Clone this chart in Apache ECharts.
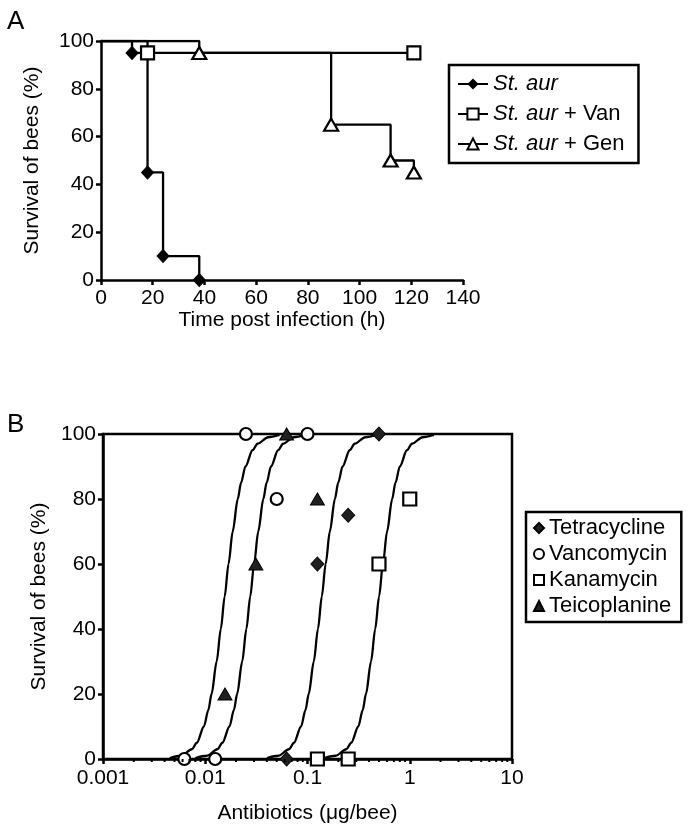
<!DOCTYPE html>
<html>
<head>
<meta charset="utf-8">
<script src="https://cdn.jsdelivr.net/npm/echarts@6/dist/echarts.min.js"></script>
<style>
html,body{margin:0;padding:0;background:#fff;}
#c{width:690px;height:831px;}
</style>
</head>
<body>
<div id="c"></div>
<script>
// ---------- Panel A: Kaplan-Meier survival ----------
const aurTime = [0, 12, 18, 24, 38];
const aurSurv = [100, 95, 45, 10, 0];
const vanTime = [0, 18, 121];
const vanSurv = [100, 95, 95];
const genTime = [0, 38, 89, 112, 121];
const genSurv = [100, 95, 65, 50, 45];
const seriesNamesA = ['St. aur', 'St. aur + Van', 'St. aur + Gen'];
const xTicksA = [0, 140, 20];   // min, max, interval
const yTicksA = [0, 100, 20];

// ---------- Panel B: dose response ----------
const tetraDose = [0.0625, 0.125, 0.25, 0.5];
const tetraSurv = [0, 60, 75, 100];
const vancoDose = [0.00625, 0.0125, 0.025, 0.05, 0.1];
const vancoSurv = [0, 0, 100, 80, 100];
const kanaDose = [0.125, 0.25, 0.5, 1];
const kanaSurv = [0, 0, 60, 80];
const teicoDose = [0.0156, 0.03125, 0.0625, 0.125];
const teicoSurv = [20, 60, 100, 80];
const seriesNamesB = ['Tetracycline', 'Vancomycin', 'Kanamycin', 'Teicoplanine'];

// fitted sigmoid curves (survival level -> dose)
const fitSurv  = [0.3, 1, 3, 5, 10, 15, 20, 30, 40, 50, 60, 70, 80, 85, 90, 95, 97, 99, 99.7];
const fit1Dose = [0.004503, 0.005829, 0.007392, 0.008277, 0.009705, 0.01071, 0.01153, 0.01293, 0.01420, 0.01549, 0.01689, 0.01855, 0.02080, 0.02240, 0.02472, 0.02898, 0.03245, 0.04118, 0.05327];
const fit2Dose = [0.008008, 0.010366, 0.013145, 0.014719, 0.017258, 0.019046, 0.020504, 0.022993, 0.025252, 0.027546, 0.030035, 0.032987, 0.036989, 0.039834, 0.043960, 0.051535, 0.057706, 0.073230, 0.094730];
const fit3Dose = [0.04013, 0.05195, 0.06588, 0.07377, 0.08650, 0.09545, 0.10276, 0.11524, 0.12656, 0.13805, 0.15053, 0.16533, 0.18538, 0.19964, 0.22032, 0.25828, 0.28921, 0.36702, 0.47477];
const fit4Dose = [0.14571, 0.18862, 0.23920, 0.26784, 0.31404, 0.34657, 0.37310, 0.41840, 0.45950, 0.50124, 0.54654, 0.60026, 0.67307, 0.72484, 0.79991, 0.93776, 1.05005, 1.33254, 1.72376];

const xLogB = [0.001, 10];
const minorTicksB = [];
[0.001, 0.01, 0.1, 1].forEach(d => { for (let k = 2; k <= 9; k++) minorTicksB.push(+(d * k).toPrecision(3)); });

const FONT = 'Liberation Sans, Arial, sans-serif';
const FS = 21;
const FSL = 22;

function kmData(t, s) {
  return t.map((x, i) => i === 0 ? { value: [x, s[i]], symbol: 'none' } : [x, s[i]]);
}
function pairs(a, b) { return a.map((x, i) => [x, b[i]]); }

const axisLine = { show: true, lineStyle: { color: '#000', width: 2.5 } };
const axisTick = { show: true, inside: false, length: 5, lineStyle: { color: '#000', width: 2.5 } };
const axisLabel = { color: '#000', fontSize: FS, fontFamily: FONT };
const nameStyle = { color: '#000', fontSize: FS, fontFamily: FONT };

const chart = echarts.init(document.getElementById('c'), null, { renderer: 'canvas' });

const openStyle = { color: '#fff', borderColor: '#000', borderWidth: 2.2, opacity: 1 };
const filledStyle = { color: '#231f20', borderColor: '#000', borderWidth: 1, opacity: 1 };
const lineBlack = { color: '#000', width: 2.3 };

chart.setOption({
  animation: false,
  backgroundColor: '#fff',
  title: [
    { text: 'A', left: 7, top: 9, padding: 0, textStyle: { fontSize: 26, fontWeight: 'normal', color: '#000', fontFamily: FONT } },
    { text: 'B', left: 7, top: 412, padding: 0, textStyle: { fontSize: 26, fontWeight: 'normal', color: '#000', fontFamily: FONT } }
  ],
  grid: [
    { left: 101, top: 41, width: 362, height: 239 },
    { left: 103, top: 434, width: 409, height: 325, show: true, borderColor: '#000', borderWidth: 2.5, backgroundColor: 'transparent' }
  ],
  legend: [
    {
      data: seriesNamesA,
      orient: 'vertical', left: 449, top: 65,
      padding: [8, 14, 8, 8], itemGap: 8, itemWidth: 30, itemHeight: 14,
      borderColor: '#000', borderWidth: 2.5, backgroundColor: '#fff',
      formatter: n => n.replace('St. aur', '{i|St. aur}'),
      textStyle: { color: '#000', fontSize: FSL, fontFamily: FONT, rich: { i: { fontStyle: 'italic', fontSize: FSL, fontFamily: FONT, color: '#000' } } }
    },
    {
      data: seriesNamesB,
      orient: 'vertical', left: 526, top: 512,
      padding: [5, 10, 5, 7], itemGap: 4, itemWidth: 10, itemHeight: 10,
      borderColor: '#000', borderWidth: 2.5, backgroundColor: '#fff',
      textStyle: { color: '#000', fontSize: FSL, fontFamily: FONT }
    }
  ],
  xAxis: [
    {
      gridIndex: 0, type: 'value', min: xTicksA[0], max: xTicksA[1], interval: xTicksA[2],
      name: 'Time post infection (h)', nameLocation: 'middle', nameGap: 30, nameTextStyle: nameStyle,
      axisLine, axisTick, axisLabel: Object.assign({ margin: 8 }, axisLabel), splitLine: { show: false }
    },
    {
      gridIndex: 1, type: 'log', logBase: 10, min: xLogB[0], max: xLogB[1],
      name: 'Antibiotics (\u03bcg/bee)', nameLocation: 'middle', nameGap: 44, nameTextStyle: nameStyle,
      axisLine, axisTick, axisLabel: Object.assign({ margin: 9, formatter: v => String(+(+v).toPrecision(3)) }, axisLabel),
      splitLine: { show: false }, minorTick: { show: false }
    }
  ],
  yAxis: [
    {
      gridIndex: 0, type: 'value', min: yTicksA[0], max: yTicksA[1], interval: yTicksA[2],
      name: 'Survival of bees (%)', nameLocation: 'middle', nameGap: 58, nameTextStyle: nameStyle,
      axisLine, axisTick, axisLabel: Object.assign({ margin: 7 }, axisLabel), splitLine: { show: false }
    },
    {
      gridIndex: 1, type: 'value', min: 0, max: 100, interval: 20,
      name: 'Survival of bees (%)', nameLocation: 'middle', nameGap: 50, nameTextStyle: nameStyle,
      axisLine, axisTick, axisLabel: Object.assign({ margin: 7 }, axisLabel), splitLine: { show: false }
    }
  ],
  series: [
    {
      name: seriesNamesA[0], type: 'line', xAxisIndex: 0, yAxisIndex: 0, step: 'end',
      data: kmData(aurTime, aurSurv), symbol: 'diamond', symbolSize: [12, 13], showAllSymbol: true,
      lineStyle: lineBlack, itemStyle: { color: '#000', borderColor: '#000', opacity: 1 }, z: 3
    },
    {
      name: seriesNamesA[1], type: 'line', xAxisIndex: 0, yAxisIndex: 0, step: 'end',
      data: kmData(vanTime, vanSurv), symbol: 'rect', symbolSize: 13, showAllSymbol: true,
      lineStyle: lineBlack, itemStyle: openStyle, z: 4
    },
    {
      name: seriesNamesA[2], type: 'line', xAxisIndex: 0, yAxisIndex: 0, step: 'end',
      data: kmData(genTime, genSurv), symbol: 'triangle', symbolSize: [14, 12], showAllSymbol: true,
      lineStyle: lineBlack, itemStyle: openStyle, z: 5
    },
    // fitted curves
    ...[fit1Dose, fit2Dose, fit3Dose, fit4Dose].map((d, k) => ({
      name: 'fit' + k, type: 'line', xAxisIndex: 1, yAxisIndex: 1,
      data: pairs(d, fitSurv), symbol: 'none', smooth: 0.3, smoothMonotone: 'x',
      lineStyle: lineBlack, z: 2, silent: true
    })),
    {
      name: seriesNamesB[0], type: 'scatter', xAxisIndex: 1, yAxisIndex: 1,
      data: pairs(tetraDose, tetraSurv), symbol: 'diamond', symbolSize: [13, 14],
      itemStyle: filledStyle, z: 6
    },
    {
      name: seriesNamesB[1], type: 'scatter', xAxisIndex: 1, yAxisIndex: 1,
      data: pairs(vancoDose, vancoSurv), symbol: 'circle', symbolSize: 12,
      itemStyle: openStyle, z: 6
    },
    {
      name: seriesNamesB[2], type: 'scatter', xAxisIndex: 1, yAxisIndex: 1,
      data: pairs(kanaDose, kanaSurv), symbol: 'rect', symbolSize: 13,
      itemStyle: openStyle, z: 6
    },
    {
      name: seriesNamesB[3], type: 'scatter', xAxisIndex: 1, yAxisIndex: 1,
      data: pairs(teicoDose, teicoSurv), symbol: 'triangle', symbolSize: [14, 12],
      itemStyle: filledStyle, z: 6
    },
    {
      name: 'minorTicks', type: 'custom', xAxisIndex: 1, yAxisIndex: 1, silent: true, clip: false, z: 7,
      data: minorTicksB.map(v => [v, 0]),
      renderItem: (params, api) => {
        const p = api.coord([api.value(0), api.value(1)]);
        return { type: 'line', shape: { x1: p[0], y1: p[1], x2: p[0], y2: p[1] + 3 }, style: { stroke: '#000', lineWidth: 2 } };
      }
    }
  ]
});
</script>
</body>
</html>
